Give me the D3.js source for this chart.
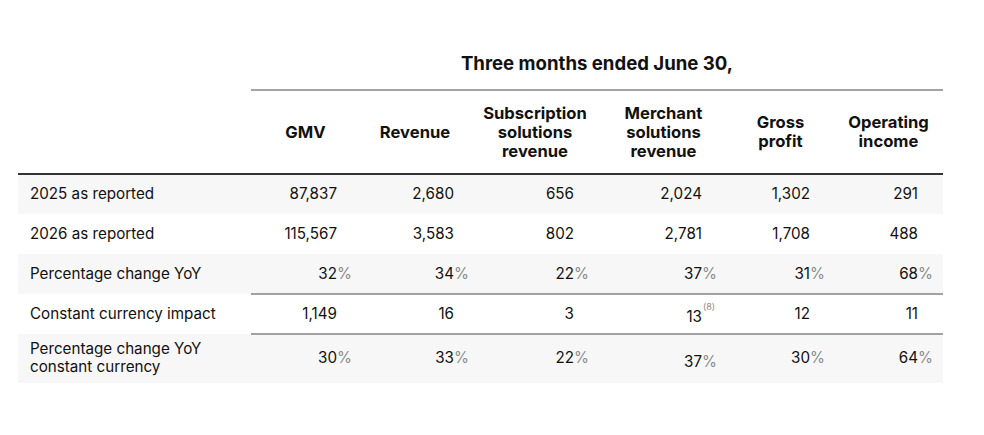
<!DOCTYPE html>
<html>
<head>
<meta charset="utf-8">
<script src="https://cdn.jsdelivr.net/npm/d3@7/dist/d3.min.js"></script>
<style>
  html, body { margin: 0; padding: 0; background: #fff; }
  svg { display: block; font-family: Inter, "Noto Sans", sans-serif; }
  .hdr { font-weight: 700; font-size: 16.6px; fill: #111; }
  .title { font-weight: 700; font-size: 18.6px; fill: #111; }
  .lbl { font-size: 15.2px; fill: #111; }
  .val { font-size: 15.2px; fill: #111; }
  .pct { font-size: 15.2px; fill: #8a8a8a; }
  .note { font-size: 9px; fill: #8a8a8a; }
</style>
</head>
<body>
<svg id="chart" width="984" height="435"></svg>
<script>
// data
const title = 'Three months ended June 30,';
const columns = [
  ['GMV'],
  ['Revenue'],
  ['Subscription', 'solutions', 'revenue'],
  ['Merchant', 'solutions', 'revenue'],
  ['Gross', 'profit'],
  ['Operating', 'income']
];
const rowLabels = [
  ['2025 as reported'],
  ['2026 as reported'],
  ['Percentage change YoY'],
  ['Constant currency impact'],
  ['Percentage change YoY', 'constant currency']
];
const reported2025 = [87837, 2680, 656, 2024, 1302, 291];
const reported2026 = [115567, 3583, 802, 2781, 1708, 488];
const pctChange = [32, 34, 22, 37, 31, 68];
const fxImpact = [1149, 16, 3, 13, 12, 11];
const pctChangeCC = [30, 33, 22, 37, 30, 64];
const fxNotes = ['', '', '', '(8)', '', ''];

const rows = [
  {values: reported2025, pct: false},
  {values: reported2026, pct: false},
  {values: pctChange, pct: true},
  {values: fxImpact, pct: false, notes: fxNotes},
  {values: pctChangeCC, pct: true}
];

// layout
const left = 18, right = 943;
const colEdges = [251, 360, 470, 600, 727, 834, 943];
const valuePad = [23, 16, 26, 25, 24, 25];
const rowHeights = [40, 40, 40, 40, 49];
const bodyTop = 174;
const shifted = {'3,3': 3, '4,3': 4};   // a couple of cells sit slightly low

const svg = d3.select('#chart');
const fmt = d3.format(',');

const rowTops = d3.cumsum([0].concat(rowHeights)).map(d => d + bodyTop);

// title
svg.append('text')
  .attr('class', 'title')
  .attr('x', (colEdges[0] + right) / 2)
  .attr('y', 63)
  .attr('text-anchor', 'middle')
  .attr('dominant-baseline', 'central')
  .text(title);

svg.append('line')
  .attr('x1', colEdges[0]).attr('x2', right)
  .attr('y1', 90).attr('y2', 90)
  .attr('stroke', '#858585').attr('stroke-width', 1.6);

// column headers
const hdr = svg.selectAll('text.hdr')
  .data(columns)
  .enter().append('text')
    .attr('class', 'hdr')
    .attr('text-anchor', 'middle')
    .attr('x', (d, i) => (colEdges[i] + colEdges[i + 1]) / 2)
    .attr('y', 131.5);
hdr.each(function (lines) {
  const n = lines.length;
  d3.select(this).selectAll('tspan')
    .data(lines)
    .enter().append('tspan')
      .attr('x', d3.select(this).attr('x'))
      .attr('dy', (d, j) => j === 0 ? ((-(n - 1) / 2) * 19 + 6) : 19)
      .text(d => d);
});

// row backgrounds
svg.selectAll('rect.bg')
  .data(rows)
  .enter().append('rect')
    .attr('class', 'bg')
    .attr('x', left)
    .attr('width', right - left)
    .attr('y', (d, i) => rowTops[i])
    .attr('height', (d, i) => rowHeights[i])
    .attr('fill', (d, i) => i % 2 === 0 ? '#f7f7f7' : '#fff');

// rules
svg.append('line')
  .attr('x1', left).attr('x2', right)
  .attr('y1', bodyTop).attr('y2', bodyTop)
  .attr('stroke', '#333').attr('stroke-width', 2.2);

svg.selectAll('line.mid')
  .data([3, 4])
  .enter().append('line')
    .attr('class', 'mid')
    .attr('x1', colEdges[0]).attr('x2', right)
    .attr('y1', d => rowTops[d]).attr('y2', d => rowTops[d])
    .attr('stroke', '#858585').attr('stroke-width', 1.6);

// row labels
svg.selectAll('text.lbl')
  .data(rowLabels)
  .enter().append('text')
    .attr('class', 'lbl')
    .attr('x', 30)
    .attr('y', (d, i) => rowTops[i] + rowHeights[i] / 2)
    .each(function (lines) {
      const n = lines.length;
      d3.select(this).selectAll('tspan')
        .data(lines)
        .enter().append('tspan')
          .attr('x', 30)
          .attr('dy', (d, j) => j === 0 ? ((-(n - 1) / 2) * 18 + 4.5) : 18)
          .text(d => d);
    });

// values
rows.forEach((row, r) => {
  const yMid = rowTops[r] + rowHeights[r] / 2;
  const g = svg.append('g').attr('class', 'row');
  row.values.forEach((v, c) => {
    const x = colEdges[c + 1] - valuePad[c];
    const y = yMid + 4.5 + (shifted[r + ',' + c] || 0);
    g.append('text')
      .attr('class', 'val')
      .attr('x', x).attr('y', y)
      .attr('text-anchor', 'end')
      .text(fmt(v));
    if (row.pct) {
      g.append('text')
        .attr('class', 'pct')
        .attr('x', x).attr('y', y)
        .text('%');
    }
    if (row.notes && row.notes[c]) {
      g.append('text')
        .attr('class', 'note')
        .attr('x', x + 1).attr('y', y - 12)
        .text(row.notes[c]);
    }
  });
});
</script>
</body>
</html>
